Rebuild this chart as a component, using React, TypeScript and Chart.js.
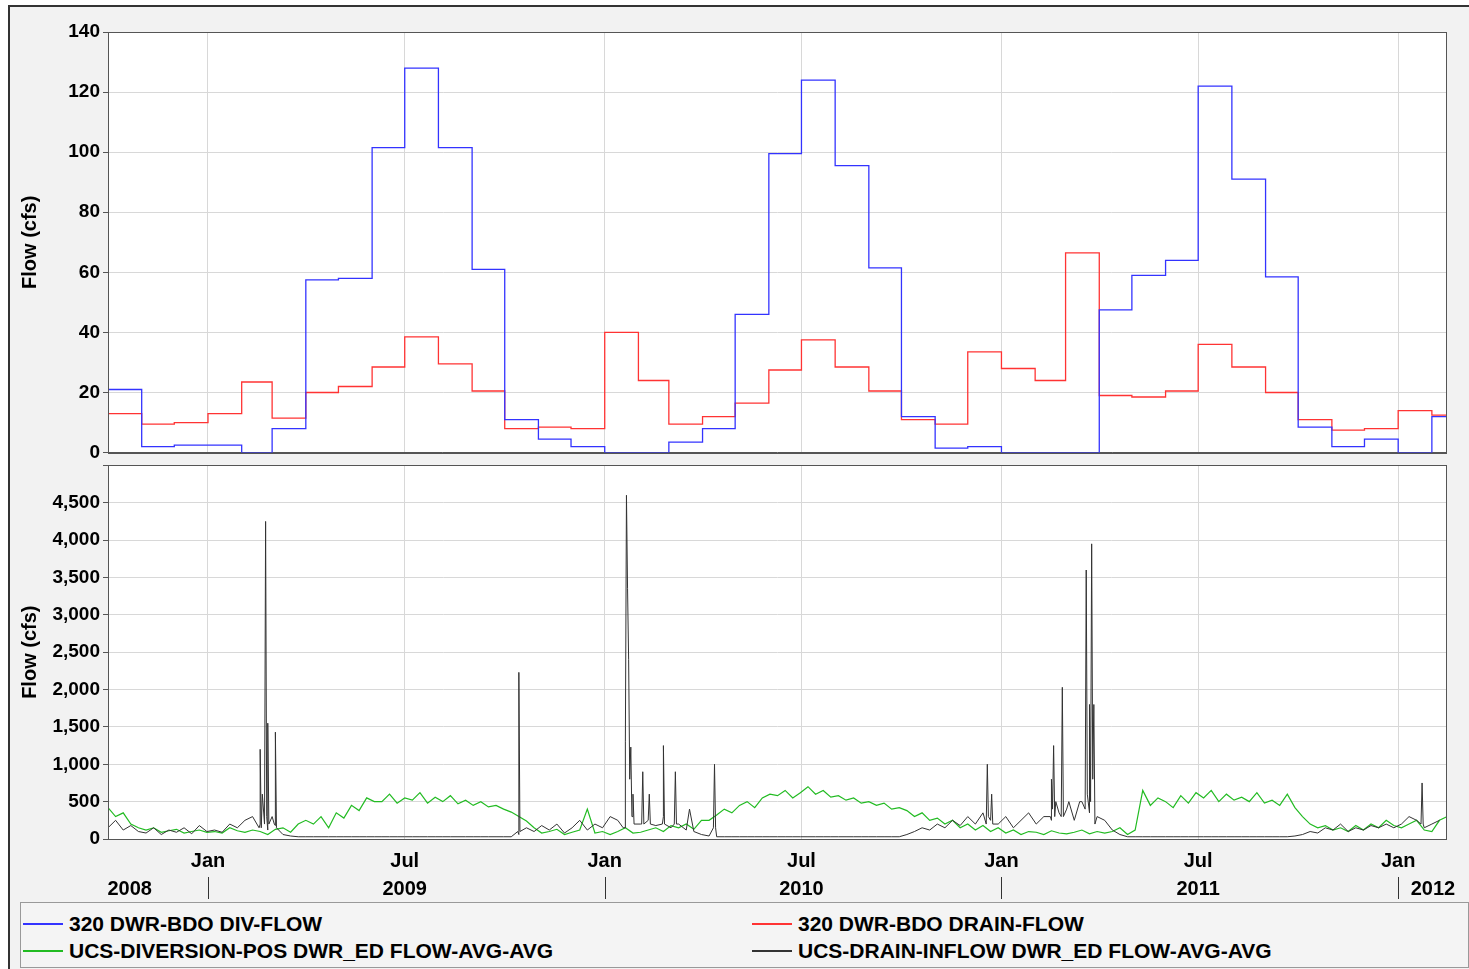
import React, { useRef, useEffect } from 'react';
import { Chart, registerables } from 'chart.js';

Chart.register(...registerables);

// days since 2008-10-01
const monthStarts = [0, 31, 61, 92, 123, 151, 182, 212, 243, 273, 304, 335, 365, 396, 426, 457, 488, 516, 547, 577, 608, 638, 669, 700, 730, 761, 791, 822, 853, 881, 912, 942, 973, 1003, 1034, 1065, 1095, 1126, 1156, 1187, 1218, 1231];
const divFlow = [21, 2, 2.5, 2.5, 0, 8, 57.5, 58, 101.5, 128, 101.5, 61, 11, 4.5, 2, 0, 0, 3.5, 8, 46, 99.5, 124, 95.5, 61.5, 12, 1.5, 2, 0, 0, 0, 47.5, 59, 64, 122, 91, 58.5, 8.5, 2, 4.5, 0, 12];
const drainFlow = [13, 9.5, 10, 13, 23.5, 11.5, 20, 22, 28.5, 38.5, 29.5, 20.5, 8, 8.5, 8, 40, 24, 9.5, 12, 16.5, 27.5, 37.5, 28.5, 20.5, 11, 9.5, 33.5, 28, 24, 66.5, 19, 18.5, 20.5, 36, 28.5, 20, 11, 7.5, 8, 14, 12.5];

// weekly values
const greenWeekly = [
  420, 300, 350, 200, 150, 120, 150, 90, 110, 130, 80, 100, 120, 90,
  100, 80, 150, 110, 90, 120, 100, 60, 130, 150, 90, 200, 250,
  200, 300, 150, 350, 280, 450, 380, 550, 500, 500, 600, 480, 550,
  520, 620, 480, 560, 500, 580, 470, 520, 450, 500, 430, 450, 400,
  360, 300, 240, 150, 80, 100, 130, 60, 90, 120, 400, 80, 100,
  60, 100, 150, 80, 90, 120, 150, 100, 180, 150, 200, 130, 250,
  250, 320, 400, 350, 450, 500, 420, 550, 600, 580, 650, 550, 620,
  700, 600, 650, 560, 580, 520, 550, 480, 500, 450, 480, 400, 420,
  380, 300, 350, 250, 280, 200, 250, 150, 200, 120, 180, 100, 150,
  80, 120, 60, 100, 90, 60, 110, 80, 70, 90, 120, 70, 100,
  80, 100, 150, 60, 120, 650, 450, 550, 500, 420, 580, 480, 620,
  550, 650, 500, 600, 520, 560, 500, 620, 480, 520, 450, 600, 420,
  300, 200, 150, 180, 120, 150, 100, 180, 120, 200, 150, 250, 180,
  150, 200, 250, 120, 100, 250, 300,
];
const blackWeekly = [
  150, 250, 120, 180, 100, 80, 150, 60, 120, 90, 150, 70, 180, 100,
  120, 90, 200, 150, 250, 300, 200, 120, 180, 60, 40, 30, 30,
  30, 30, 30, 30, 30, 30, 30, 30, 30, 30, 30, 30, 30,
  30, 30, 30, 30, 30, 30, 30, 30, 30, 30, 30, 30, 30,
  30, 60, 150, 100, 180, 120, 200, 80, 150, 250, 120, 200,
  150, 300, 250, 150, 300, 200, 250, 180, 300, 150, 200, 120, 100,
  60, 40, 30, 30, 30, 30, 30, 30, 30, 30, 30, 30, 30,
  30, 30, 30, 30, 30, 30, 30, 30, 30, 30, 30, 30, 30,
  30, 60, 100, 150, 120, 200, 150, 250, 180, 300, 200, 350, 250,
  200, 300, 150, 250, 350, 200, 300, 250, 350, 400, 250, 500, 350,
  300, 250, 120, 60, 30, 30, 30, 30, 30, 30, 30, 30, 30,
  30, 30, 30, 30, 30, 30, 30, 30, 30, 30, 30, 30, 30,
  40, 60, 100, 80, 150, 120, 200, 100, 150, 120, 180, 150, 200,
  150, 200, 300, 250, 150, 200, 250,
];
const blackSpikes: [number, number][] = [
  [139, 150], [140, 1200], [141, 150], [142, 600], [144, 200], [145, 4250], [146, 300], [147, 1550], [148, 200], [151, 300], [153, 200], [154, 1430], [155, 150],
  [377, 100], [378, 2230], [379, 100],
  [474, 150], [476, 1300], [477, 4600], [478, 3350], [479, 2400], [480, 800], [481, 1230], [482, 300], [483, 600], [484, 200],
  [491, 200], [492, 900], [493, 200], [498, 600], [499, 200], [510, 200], [511, 1250], [512, 200], [521, 200], [522, 900], [523, 200],
  [535, 400], [557, 150], [558, 1000], [559, 150],
  [808, 200], [809, 1000], [810, 300], [813, 600], [814, 200],
  [867, 300], [868, 800], [869, 400], [870, 1250], [871, 300], [872, 500], [877, 300], [878, 2030], [879, 300], [884, 500], [894, 500],
  [899, 400], [900, 3600], [901, 600], [903, 1800], [904, 500], [905, 3950], [906, 800], [907, 1800], [908, 200],
  [1208, 200], [1209, 750], [1210, 200],
];

const xTicks = [92, 273, 457, 638, 822, 1003, 1187];
const xTickLabels = ['Jan', 'Jul', 'Jan', 'Jul', 'Jan', 'Jul', 'Jan'];
const yearLabels: [number, string][] = [[20, '2008'], [273, '2009'], [638, '2010'], [1003, '2011'], [1219, '2012']];
const yearSeparators = [92, 457, 822, 1187];

const FONT = '"Liberation Sans", Arial, sans-serif';
const tickFont = { family: FONT, size: 19, weight: 'bold' as const };

const stepData = (vals: number[]) => {
  const pts = vals.map((v, i) => ({ x: monthStarts[i], y: v }));
  pts.push({ x: monthStarts[vals.length], y: vals[vals.length - 1] });
  return pts;
};

const xScale = () => ({
  type: 'linear' as const,
  min: 0,
  max: 1231,
  afterBuildTicks: (s: any) => { s.ticks = xTicks.map((v) => ({ value: v })); },
  afterFit: (s: any) => { s.height = 0; },
  ticks: { display: false },
  grid: { color: '#d8d8d8', drawTicks: false },
  border: { color: '#555' },
});

const yScale = (max: number, step: number, fmt: (v: number) => string) => ({
  min: 0,
  max,
  afterFit: (s: any) => { s.width = 90; },
  ticks: { stepSize: step, color: '#000', font: tickFont, callback: (v: any) => fmt(Number(v)), padding: 3 },
  grid: { color: '#d8d8d8', tickLength: 5, tickColor: '#555' },
  border: { color: '#555' },
  title: { display: true, text: 'Flow (cfs)', color: '#000', font: { family: FONT, size: 20, weight: 'bold' as const }, padding: 0 },
});

const frame = {
  id: 'frame',
  beforeDraw(chart: any) {
    const { ctx, chartArea: a } = chart;
    ctx.save();
    ctx.fillStyle = '#fff';
    ctx.fillRect(a.left, a.top, a.right - a.left, a.bottom - a.top);
    ctx.restore();
  },
  afterDraw(chart: any) {
    const { ctx, chartArea: a } = chart;
    ctx.save();
    ctx.strokeStyle = '#555';
    ctx.lineWidth = 1;
    ctx.strokeRect(Math.round(a.left) + 0.5, Math.round(a.top) + 0.5, Math.round(a.right - a.left), Math.round(a.bottom - a.top));
    ctx.restore();
  },
};

const bottomLabels = {
  id: 'bottomLabels',
  afterDraw(chart: any) {
    const { ctx, chartArea } = chart;
    const sx = chart.scales.x;
    ctx.save();
    ctx.fillStyle = '#000';
    ctx.strokeStyle = '#333';
    ctx.font = `bold 20px ${FONT}`;
    ctx.textAlign = 'center';
    ctx.textBaseline = 'middle';
    xTicks.forEach((t, i) => ctx.fillText(xTickLabels[i], sx.getPixelForValue(t), chartArea.bottom + 22));
    yearLabels.forEach(([d, l]) => ctx.fillText(l, sx.getPixelForValue(d), chartArea.bottom + 50));
    yearSeparators.forEach((d) => {
      const px = Math.round(sx.getPixelForValue(d)) + 0.5;
      ctx.beginPath();
      ctx.moveTo(px, chartArea.bottom + 38);
      ctx.lineTo(px, chartArea.bottom + 60);
      ctx.stroke();
    });
    ctx.restore();
  },
};

const App: React.FC = () => {
  const topRef = useRef<HTMLCanvasElement | null>(null);
  const botRef = useRef<HTMLCanvasElement | null>(null);

  useEffect(() => {
    document.body.style.margin = '0';
    const top = new Chart(topRef.current!, {
      type: 'line',
      data: {
        datasets: [
          { data: stepData(divFlow), borderColor: '#3333ff', borderWidth: 1.3, stepped: 'before', pointRadius: 0 },
          { data: stepData(drainFlow), borderColor: '#ff3333', borderWidth: 1.3, stepped: 'before', pointRadius: 0 },
        ],
      },
      options: {
        animation: false,
        responsive: false,
        layout: { padding: { top: 25, right: 23, bottom: 0, left: 8 } },
        plugins: { legend: { display: false }, tooltip: { enabled: false } },
        scales: { x: xScale(), y: yScale(140, 20, (v) => String(v)) } as any,
      },
      plugins: [frame],
    });

    const greenData = greenWeekly.map((v, i) => ({ x: i * 7, y: v }));
    const blackData = [
      ...blackWeekly.map((v, i) => ({ x: i * 7, y: v })),
      ...blackSpikes.map(([x, y]) => ({ x, y })),
    ].sort((a, b) => a.x - b.x);

    const bot = new Chart(botRef.current!, {
      type: 'line',
      data: {
        datasets: [
          { data: blackData, borderColor: '#333', borderWidth: 1, pointRadius: 0, order: 0 },
          { data: greenData, borderColor: '#22bb22', borderWidth: 1.2, pointRadius: 0, order: 1 },
        ],
      },
      options: {
        animation: false,
        responsive: false,
        layout: { padding: { top: 0, right: 23, bottom: 60, left: 8 } },
        plugins: { legend: { display: false }, tooltip: { enabled: false } },
        scales: {
          x: xScale(),
          y: yScale(5000, 500, (v) => (v >= 5000 ? '' : v.toLocaleString('en-US'))),
        } as any,
      },
      plugins: [frame, bottomLabels],
    });
    return () => { top.destroy(); bot.destroy(); };
  }, []);

  const legendItem = (color: string, text: string) => (
    <div style={{ display: 'flex', alignItems: 'center' }}>
      <span style={{ display: 'inline-block', width: 40, height: 2, background: color, marginRight: 6 }} />
      <span>{text}</span>
    </div>
  );

  return (
    <div style={{ width: 1461, height: 964, margin: '5px 0 0 8px', background: '#f2f2f2', borderLeft: '2px solid #333', borderTop: '2px solid #333', boxSizing: 'border-box', fontFamily: FONT }}>
      <canvas ref={topRef} width={1459} height={460} style={{ display: 'block', position: 'relative', zIndex: 1 }} />
      <canvas ref={botRef} width={1459} height={448} style={{ display: 'block', marginTop: -16, position: 'relative' }} />
      <div style={{ margin: '3px 0 0 10px', border: '1px solid #999', background: '#f4f4f4', height: 66, fontWeight: 'bold', fontSize: 21, display: 'grid', gridTemplateColumns: '729px 1fr', alignContent: 'space-evenly', padding: '5px 0 0 2px', boxSizing: 'border-box' }}>
        {legendItem('#3333ff', '320 DWR-BDO DIV-FLOW')}
        {legendItem('#ff3333', '320 DWR-BDO DRAIN-FLOW')}
        {legendItem('#22bb22', 'UCS-DIVERSION-POS DWR_ED FLOW-AVG-AVG')}
        {legendItem('#333', 'UCS-DRAIN-INFLOW DWR_ED FLOW-AVG-AVG')}
      </div>
    </div>
  );
};

export default App;
